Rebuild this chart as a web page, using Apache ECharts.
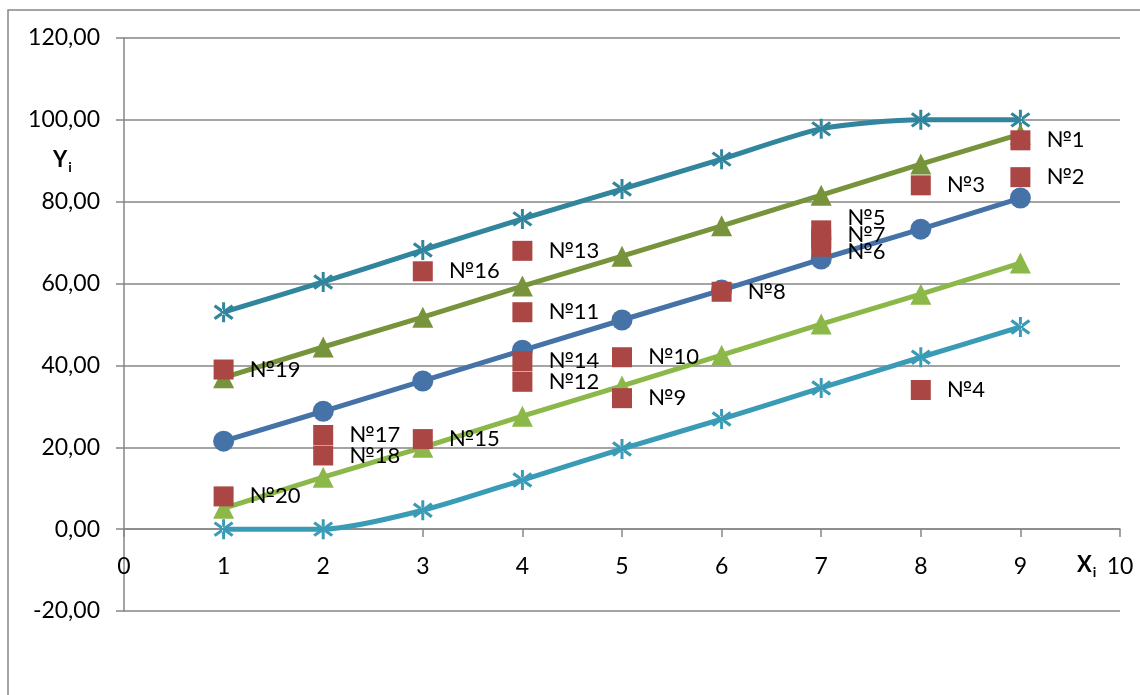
<!DOCTYPE html>
<html><head><meta charset="utf-8">
<script src="https://cdn.jsdelivr.net/npm/echarts@6/dist/echarts.min.js"></script>
<style>html,body{margin:0;padding:0;background:#fff}#c{width:1140px;height:695px}</style>
</head><body><div id="c"></div>
<script>
const xs = [1,2,3,4,5,6,7,8,9];
const upperBound = [53.0,60.4,68.2,75.8,83.1,90.4,97.8,100,100];
const upperTri   = [37.0,44.5,51.8,59.4,66.7,74.1,81.6,89.2,96.5];
const middle     = [21.5,28.8,36.2,43.7,51.1,58.4,66.0,73.3,80.9];
const lowerTri   = [5.1,12.7,20.0,27.6,35.0,42.5,50.1,57.4,65.0];
const lowerBound = [0,0,4.6,12.0,19.6,26.9,34.5,42.0,49.4];
const sampleNames = ['№1','№2','№3','№4','№5','№6','№7','№8','№9','№10','№11','№12','№13','№14','№15','№16','№17','№18','№19','№20'];
const sampleX = [9,9,8,8,7,7,7,6,5,5,4,4,4,4,3,3,2,2,1,1];
const sampleY = [95,86,84,34,73,69,71,58,32,42,53,36,68,41,22,63,23,18,39,8];

const labelOffsets = {'№5':[0,-12],'№7':[0,-4],'№6':[0,5]};
const starPath = 'path://M8.6,0L11.4,0L11.4,20L8.6,20Z M0.57,4.71L17.57,17.71L19.43,15.29L2.43,2.29Z M2.43,17.71L19.43,4.71L17.57,2.29L0.57,15.29Z';
const font = 'Lato, "Open Sans", sans-serif';
const gridColor = '#868686';

function pairs(ys){ return xs.map((x,i)=>[x, ys[i]]); }
function lineSeries(name, ys, color, symbol, size, smooth){
  return {name, type:'line', data:pairs(ys), smooth: smooth||false,
    lineStyle:{color, width:5}, itemStyle:{color, opacity:1}, symbol, symbolSize:size,
    showAllSymbol:true, z:2};
}
const scatterData = sampleNames.map((n,i)=>{
  const d = {name:n, value:[sampleX[i], sampleY[i]]};
  if(labelOffsets[n]) d.label = {offset: labelOffsets[n]};
  return d;
});

const chart = echarts.init(document.getElementById('c'));
chart.setOption({
  animation:false,
  grid:{left:124, right:20, top:38, bottom:84, containLabel:false},
  xAxis:{type:'value', min:0, max:10, interval:1, offset:-82,
    axisLine:{onZero:false, lineStyle:{color:gridColor, width:1.5}},
    axisTick:{show:true, inside:false, length:8, lineStyle:{color:gridColor, width:1.5}},
    axisLabel:{margin:26, color:'#000', fontSize:23, fontFamily:font},
    splitLine:{show:false}},
  yAxis:{type:'value', min:-20, max:120, interval:20,
    axisLine:{show:true, lineStyle:{color:gridColor, width:1.5}},
    axisTick:{show:true, length:8, lineStyle:{color:gridColor, width:1.5}},
    axisLabel:{margin:24, color:'#000', fontSize:23, fontFamily:font,
      formatter:v=>v.toFixed(2).replace('.',',')},
    splitLine:{show:true, lineStyle:{color:gridColor, width:1.5}}},
  series:[
    lineSeries('upperBound', upperBound, '#31859C', starPath, 20, 0.25),
    lineSeries('upperTri', upperTri, '#77933C', 'triangle', 21),
    lineSeries('middle', middle, '#4572A7', 'circle', 21),
    lineSeries('lowerTri', lowerTri, '#8CB84A', 'triangle', 21),
    lineSeries('lowerBound', lowerBound, '#3A9BB7', starPath, 20, 0.25),
    {name:'samples', type:'scatter', data:scatterData, symbol:'rect', symbolSize:20,
      itemStyle:{color:'#AA4643', opacity:1}, z:5,
      label:{show:true, position:'right', distance:16, formatter:p=>p.name,
        color:'#000', fontSize:22, fontFamily:font}}
  ],
  graphic:[
    {type:'rect', shape:{x:8, y:10, width:1200, height:800}, style:{fill:'none', stroke:gridColor, lineWidth:1.5}, silent:true},
    {type:'text', x:53, y:146, style:{text:'{a|Y}{b|i}', rich:{a:{fontSize:22, fontWeight:'bold', fontFamily:font, fill:'#000'}, b:{fontSize:14, fontWeight:'bold', fontFamily:font, fill:'#000', padding:[14,0,0,1]}}}},
    {type:'text', x:1077, y:551, style:{text:'{a|X}{b|i}', rich:{a:{fontSize:22, fontWeight:'bold', fontFamily:font, fill:'#000'}, b:{fontSize:14, fontWeight:'bold', fontFamily:font, fill:'#000', padding:[14,0,0,1]}}}}
  ]
});
</script></body></html>
